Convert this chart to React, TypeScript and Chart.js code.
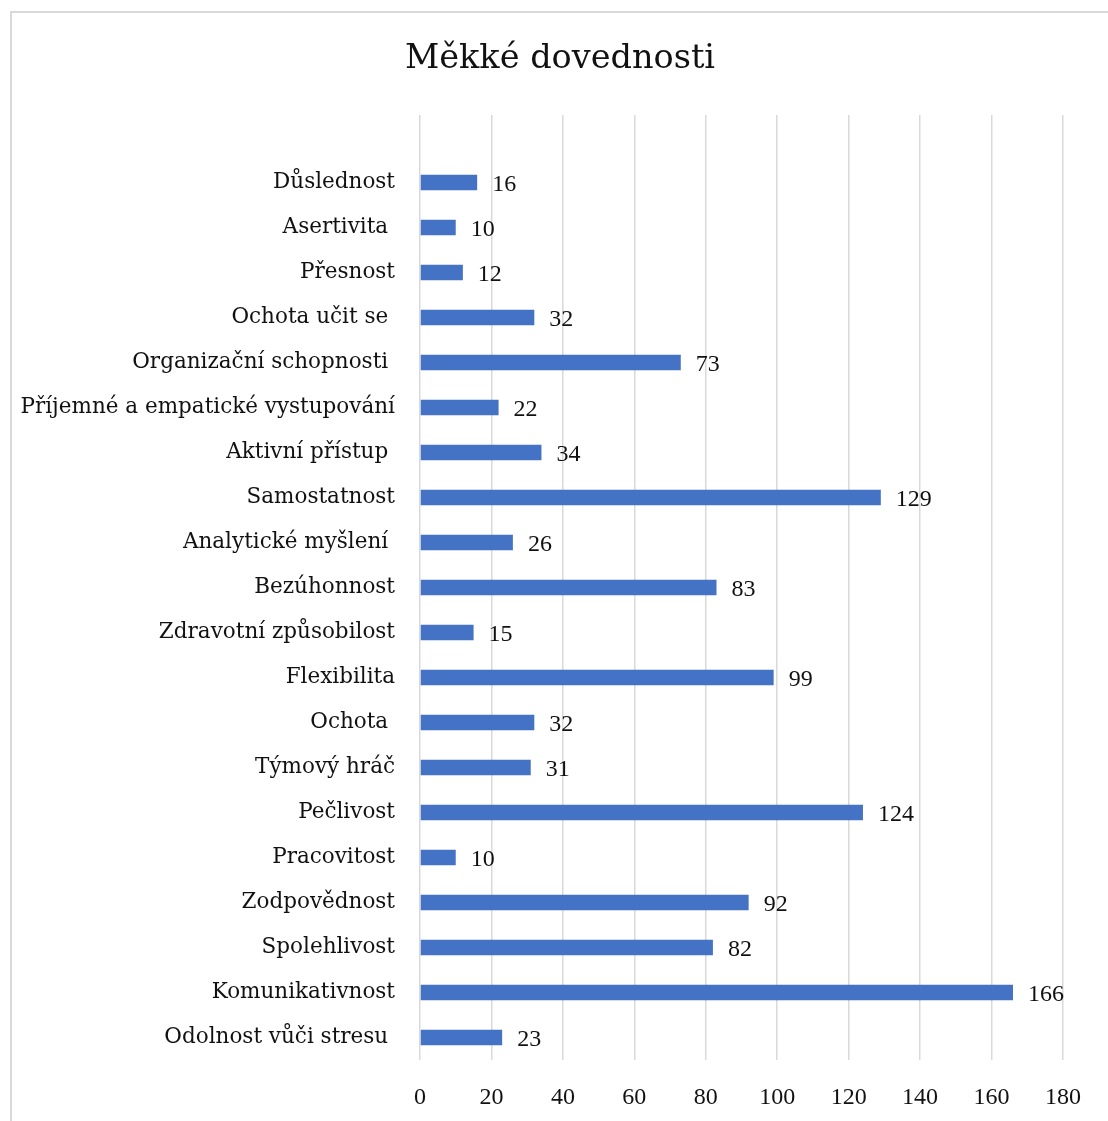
import React, { useEffect, useRef } from "react";
import { Chart, registerables } from "chart.js";

Chart.register(...registerables);

const chartTitle = "Měkké dovednosti";

const categories: string[] = [
  "",
  "Důslednost",
  "Asertivita ",
  "Přesnost",
  "Ochota učit se ",
  "Organizační schopnosti ",
  "Příjemné a empatické vystupování",
  "Aktivní přístup ",
  "Samostatnost",
  "Analytické myšlení ",
  "Bezúhonnost",
  "Zdravotní způsobilost",
  "Flexibilita",
  "Ochota ",
  "Týmový hráč",
  "Pečlivost",
  "Pracovitost",
  "Zodpovědnost",
  "Spolehlivost",
  "Komunikativnost",
  "Odolnost vůči stresu ",
];

const values: (number | null)[] = [
  null, 16, 10, 12, 32, 73, 22, 34, 129, 26, 83, 15, 99, 32, 31, 124, 10, 92, 82, 166, 23,
];

const xMin = 0;
const xMax = 180;
const xStep = 20;

const FONT = "'DejaVu Serif', 'Liberation Serif', serif";
const NUM_FONT = "'Liberation Serif', 'DejaVu Serif', serif";
const BAR_COLOR = "#4472C4";
const GRID_COLOR = "#d9d9d9";
const TEXT_COLOR = "#111111";

const valueLabels = {
  id: "valueLabels",
  afterDatasetsDraw(chart: any) {
    const ctx = chart.ctx;
    const meta = chart.getDatasetMeta(0);
    ctx.save();
    ctx.font = `24px ${NUM_FONT}`;
    ctx.fillStyle = TEXT_COLOR;
    ctx.textAlign = "left";
    ctx.textBaseline = "middle";
    meta.data.forEach((bar: any, i: number) => {
      const v = values[i];
      if (v === null || v === undefined) return;
      ctx.fillText(String(v), bar.x + 15, bar.y + 2);
    });
    ctx.restore();
  },
};

const titleDrawer = {
  id: "titleDrawer",
  afterDraw(chart: any) {
    const ctx = chart.ctx;
    ctx.save();
    ctx.font = `33.5px ${FONT}`;
    ctx.fillStyle = TEXT_COLOR;
    ctx.textAlign = "center";
    ctx.textBaseline = "middle";
    ctx.fillText(chartTitle, 560, 59);
    ctx.restore();
  },
};

export default function App() {
  const ref = useRef<HTMLCanvasElement | null>(null);

  useEffect(() => {
    if (!ref.current) return;
    const chart = new Chart(ref.current, {
      type: "bar",
      data: {
        labels: categories,
        datasets: [
          {
            data: values as any,
            backgroundColor: BAR_COLOR,
            borderWidth: 0,
            categoryPercentage: 1,
            barPercentage: 0.34,
          },
        ],
      },
      options: {
        indexAxis: "y",
        responsive: false,
        animation: false,
        layout: { padding: { left: 0, right: 45, top: 115, bottom: 0 } },
        plugins: {
          legend: { display: false },
          tooltip: { enabled: false },
          title: { display: false },
        },
        scales: {
          x: {
            min: xMin,
            max: xMax,
            ticks: {
              stepSize: xStep,
              color: TEXT_COLOR,
              font: { family: NUM_FONT, size: 24 },
              padding: 23,
            },
            grid: { color: GRID_COLOR, lineWidth: 1.5, drawTicks: false },
            border: { display: false },
            afterFit: (s: any) => {
              s.height = 61;
            },
          },
          y: {
            ticks: {
              color: TEXT_COLOR,
              font: { family: FONT, size: 21.5 },
              padding: 25,
              autoSkip: false,
            },
            grid: { display: false, drawTicks: false },
            border: { display: false },
            afterFit: (s: any) => {
              s.width = 420;
            },
          },
        },
      },
      plugins: [valueLabels, titleDrawer],
    });
    return () => chart.destroy();
  }, []);

  return (
    <div
      style={{
        position: "fixed",
        left: 0,
        top: 0,
        width: 1108,
        height: 1121,
        overflow: "hidden",
        background: "#fff",
      }}
    >
      <div
        style={{
          position: "absolute",
          left: 10,
          top: 11,
          width: 1200,
          height: 1200,
          border: "2px solid #d9d9d9",
          boxSizing: "border-box",
        }}
      />
      <canvas
        ref={ref}
        width={1108}
        height={1121}
        style={{ position: "absolute", left: 0, top: 0 }}
      />
    </div>
  );
}
